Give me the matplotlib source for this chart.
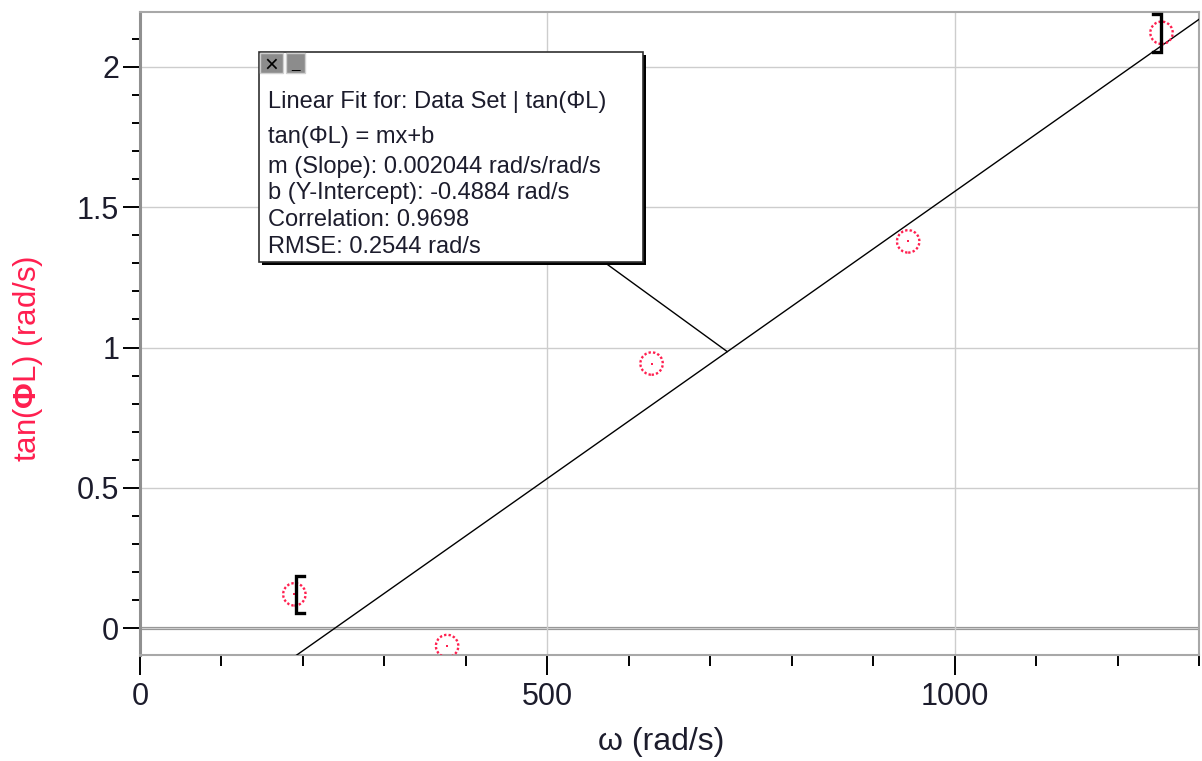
import matplotlib
matplotlib.use('Agg')
import matplotlib.pyplot as plt
from matplotlib.patches import Rectangle, ConnectionPatch
from matplotlib.ticker import MultipleLocator, FixedLocator

# ---- data ----
omega = [189.5, 377, 628, 943, 1254]
tan_phi = [0.121, -0.063, 0.943, 1.378, 2.121]
slope = 0.002044
intercept = -0.4884
fit_range = [191, 1253]
x_major = [0, 500, 1000]
y_major = [0, 0.5, 1, 1.5, 2]
x_labels = ['0', '500', '1000']
y_labels = ['0', '0.5', '1', '1.5', '2']
fit_lines = [
    "Linear Fit for: Data Set | tan(\u03a6L)",
    "tan(\u03a6L) = mx+b",
    "m (Slope): 0.002044 rad/s/rad/s",
    "b (Y-Intercept): -0.4884 rad/s",
    "Correlation: 0.9698",
    "RMSE: 0.2544 rad/s",
]
x_label = "\u03c9 (rad/s)"
y_label = r"tan($\mathbf{\Phi}$L) (rad/s)"

plt.rcParams['font.family'] = ['Liberation Sans', 'DejaVu Sans']
plt.rcParams['mathtext.fontset'] = 'custom'
plt.rcParams['mathtext.rm'] = 'Liberation Sans'
plt.rcParams['mathtext.bf'] = 'Liberation Sans:bold'

RED = '#ff1f4f'
TXT = '#1c1c2c'
W, H = 1202, 761
fig = plt.figure(figsize=(W / 100, H / 100), dpi=100)

def F(x, y):
    return (x / W, 1 - y / H)

ax = fig.add_axes([140 / W, 1 - 655 / H, (1199 - 140) / W, (655 - 12) / H])
ax.set_xlim(0, 1300)
ax.set_ylim(-0.095, 2.195)

for s in ['top', 'right', 'bottom']:
    ax.spines[s].set_color('#a8a8a8')
    ax.spines[s].set_linewidth(1.5)
ax.spines['left'].set_color('#909090')
ax.spines['left'].set_linewidth(2.2)

ax.xaxis.set_major_locator(FixedLocator(x_major))
ax.set_xticklabels(x_labels)
ax.yaxis.set_major_locator(FixedLocator(y_major))
ax.set_yticklabels(y_labels)
ax.xaxis.set_minor_locator(MultipleLocator(100))
ax.yaxis.set_minor_locator(MultipleLocator(0.1))
ax.tick_params(axis='x', which='major', length=14.4, width=1.4, direction='out',
               color='black', pad=5, labelsize=22, labelcolor=TXT)
ax.tick_params(axis='x', which='minor', length=8, width=1.4, direction='out', color='black')
ax.tick_params(axis='y', which='major', length=12, width=1.4, direction='out',
               color='black', pad=3, labelsize=22, labelcolor=TXT)
ax.tick_params(axis='y', which='minor', length=6, width=1.4, direction='out', color='black')

ax.grid(which='major', color='#cdcdcd', lw=1.0, zorder=0)
ax.axhline(0, color='#8c8c8c', lw=2.3, zorder=1.5)

# fit line
xs = [0, 1300]
ax.plot(xs, [slope * v + intercept for v in xs], color='black', lw=1.0, zorder=3)

# data points
ax.scatter(omega, tan_phi, s=260, facecolors='none', edgecolors=RED,
           linewidths=1.7, linestyle=(0, (1.0, 0.9)), zorder=4)
ax.plot(omega, tan_phi, 's', ms=2.0, color=RED, mew=0, zorder=4)

# fit-range brackets
bh = 0.067
bw = 10
x0, y0 = fit_range[0], tan_phi[0]
ax.plot([x0 + bw, x0, x0, x0 + bw], [y0 + bh, y0 + bh, y0 - bh, y0 - bh],
        color='black', lw=2.4, solid_joinstyle='miter', zorder=5)
x1, y1 = fit_range[1], tan_phi[-1]
ax.plot([x1 - bw, x1, x1, x1 - bw], [y1 + bh, y1 + bh, y1 - bh, y1 - bh],
        color='black', lw=2.4, solid_joinstyle='miter', zorder=5, clip_on=False)

ax.set_xlabel(x_label, fontsize=23, color=TXT, va='center')
ax.xaxis.set_label_coords(0.492, -0.135)
ax.set_ylabel(y_label, fontsize=22.5, color=RED, va='center')
ax.yaxis.set_label_coords(-0.1058, 0.460)

# connector from annotation box to fit line
xc = 721
con = ConnectionPatch(xyA=F(604, 262), coordsA=fig.transFigure,
                      xyB=(xc, slope * xc + intercept), coordsB=ax.transData,
                      color='black', lw=1.0, zorder=6)
fig.add_artist(con)

# annotation box
bx0, by0, bx1, by1 = 259, 52, 643, 262
fig.add_artist(Rectangle(F(bx0 + 3, by1 + 3), (bx1 - bx0) / W, (by1 - by0) / H,
                         transform=fig.transFigure, fc='black', ec='none', zorder=7))
fig.add_artist(Rectangle(F(bx0, by1), (bx1 - bx0) / W, (by1 - by0) / H,
                         transform=fig.transFigure, fc='white', ec='#303030', lw=1.2, zorder=8))
# title buttons
fig.add_artist(Rectangle(F(260, 73), 23 / W, 20 / H, transform=fig.transFigure,
                         fc='#8c8c8c', ec='#d0d0d0', lw=1.0, zorder=9))
fig.add_artist(Rectangle(F(286, 73), 19 / W, 20 / H, transform=fig.transFigure,
                         fc='#8c8c8c', ec='#d0d0d0', lw=1.0, zorder=9))
fig.text(271.5 / W, 1 - 63 / H, '\u00d7', ha='center', va='center_baseline',
         fontsize=17, color='black', zorder=10)
fig.text(295.5 / W, 1 - 64 / H, '_', ha='center', va='center',
         fontsize=11, color='black', zorder=10)

line_y = [101.7, 137, 166.7, 193, 220, 246.7]
for txt, yy in zip(fit_lines, line_y):
    fig.text(268 / W, 1 - yy / H, txt, ha='left', va='center', fontsize=17,
             color=TXT, zorder=10)

fig.savefig('out.png', dpi=100)
